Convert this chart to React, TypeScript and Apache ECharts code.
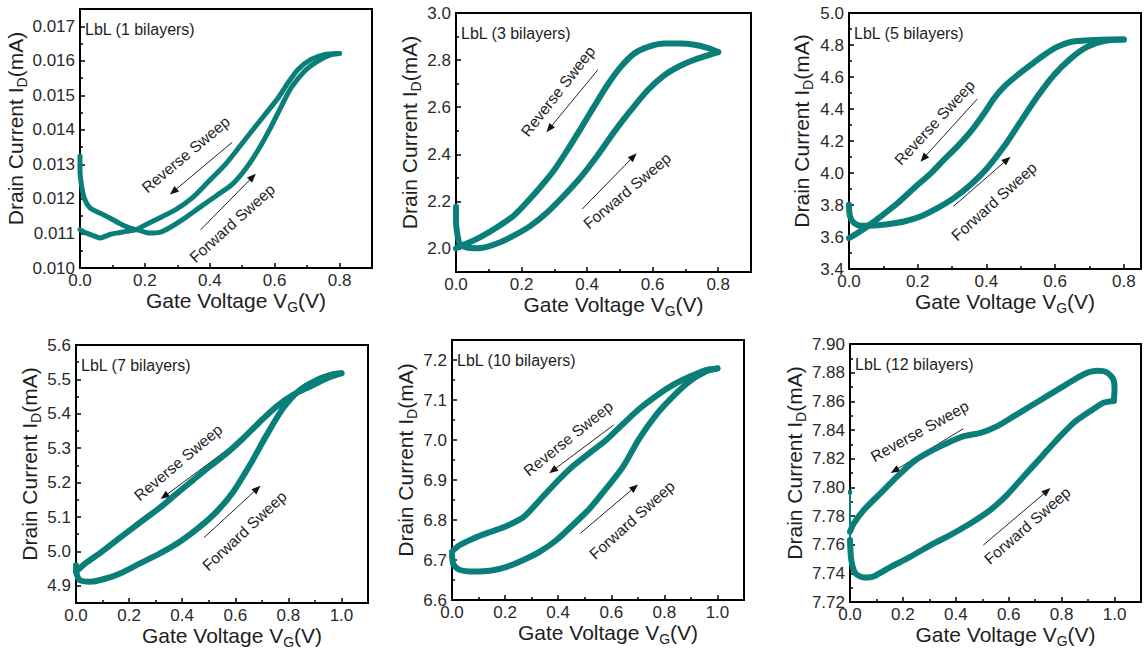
import { useEffect, useRef } from "react";
import * as echarts from "echarts";

const TEAL = "#0a7e78";
const INK = "#1e1e1e";
const FONT = "'Liberation Sans', Arial, Helvetica, sans-serif";

// ---- sweep data: [gate voltage V, drain current mA] ----
const fwd1: number[][] = [
  [0, 0.01324], [0, 0.01285], [0.005, 0.01237], [0.015, 0.01198], [0.031, 0.01174], [0.061, 0.01159],
  [0.092, 0.01145], [0.122, 0.01129], [0.153, 0.01116], [0.183, 0.01109], [0.214, 0.01101], [0.245, 0.01103],
  [0.275, 0.01116], [0.316, 0.0114], [0.367, 0.01174], [0.418, 0.01208], [0.469, 0.01242], [0.509, 0.01285],
  [0.55, 0.01343], [0.59, 0.01411], [0.621, 0.01469], [0.651, 0.01522], [0.692, 0.0157], [0.733, 0.01599],
  [0.774, 0.01618], [0.8, 0.01621],
];
const rev1: number[][] = [
  [0.8, 0.01621], [0.753, 0.01618], [0.712, 0.01604], [0.672, 0.01575], [0.641, 0.01536], [0.611, 0.01493],
  [0.57, 0.01444], [0.529, 0.01396], [0.489, 0.01348], [0.448, 0.013], [0.397, 0.01251], [0.346, 0.01203],
  [0.295, 0.01169], [0.245, 0.01145], [0.204, 0.01126], [0.173, 0.01111], [0.143, 0.01106], [0.112, 0.01101],
  [0.092, 0.01097], [0.061, 0.01087], [0.041, 0.01094], [0.02, 0.01101], [0, 0.01111],
];

const fwd3: number[][] = [
  [0, 2.177], [0, 2.118], [0.004, 2.061], [0.012, 2.018], [0.033, 2.004], [0.063, 2.001], [0.094, 2.007],
  [0.135, 2.026], [0.176, 2.054], [0.227, 2.096], [0.278, 2.153], [0.329, 2.224], [0.38, 2.302], [0.431, 2.394],
  [0.482, 2.494], [0.533, 2.586], [0.584, 2.671], [0.635, 2.735], [0.686, 2.777], [0.737, 2.806], [0.8, 2.834],
];
const rev3: number[][] = [
  [0.8, 2.834], [0.767, 2.852], [0.727, 2.865], [0.686, 2.87], [0.635, 2.87], [0.584, 2.855], [0.543, 2.827],
  [0.502, 2.77], [0.461, 2.692], [0.42, 2.6], [0.38, 2.508], [0.339, 2.416], [0.298, 2.33], [0.257, 2.26],
  [0.216, 2.196], [0.176, 2.139], [0.124, 2.089], [0.073, 2.047], [0.033, 2.021], [0.012, 2.011], [0, 2.0],
];

const fwd5: number[][] = [
  [0, 3.801], [0.003, 3.728], [0.015, 3.687], [0.034, 3.67], [0.073, 3.672], [0.112, 3.68], [0.16, 3.697],
  [0.208, 3.728], [0.257, 3.78], [0.305, 3.843], [0.354, 3.926], [0.402, 4.03], [0.451, 4.165], [0.499, 4.32],
  [0.548, 4.476], [0.596, 4.611], [0.645, 4.715], [0.693, 4.788], [0.742, 4.825], [0.8, 4.834],
];
const rev5: number[][] = [
  [0.8, 4.834], [0.761, 4.834], [0.703, 4.83], [0.645, 4.819], [0.606, 4.788], [0.567, 4.736], [0.528, 4.674],
  [0.49, 4.611], [0.451, 4.539], [0.422, 4.466], [0.393, 4.372], [0.354, 4.258], [0.315, 4.165], [0.276, 4.082],
  [0.238, 3.998], [0.189, 3.905], [0.141, 3.811], [0.092, 3.728], [0.053, 3.666], [0.024, 3.624], [0, 3.593],
];

const fwd7: number[][] = [
  [0, 4.96], [0.002, 4.936], [0.015, 4.916], [0.053, 4.912], [0.103, 4.919], [0.166, 4.936], [0.241, 4.965],
  [0.316, 4.994], [0.391, 5.028], [0.467, 5.072], [0.529, 5.115], [0.592, 5.173], [0.655, 5.251], [0.718, 5.338],
  [0.78, 5.416], [0.843, 5.469], [0.906, 5.498], [0.969, 5.515], [1.0, 5.518],
];
const rev7: number[][] = [
  [1.0, 5.518], [0.944, 5.503], [0.881, 5.479], [0.818, 5.455], [0.755, 5.421], [0.693, 5.377], [0.63, 5.329],
  [0.567, 5.285], [0.504, 5.247], [0.442, 5.208], [0.379, 5.168], [0.316, 5.127], [0.241, 5.084], [0.166, 5.04],
  [0.09, 4.995], [0.04, 4.968], [0, 4.941],
];

const fwd10: number[][] = [
  [0, 6.7125], [0.006, 6.688], [0.031, 6.675], [0.081, 6.671], [0.144, 6.673], [0.206, 6.683], [0.269, 6.7],
  [0.331, 6.721], [0.394, 6.75], [0.456, 6.788], [0.519, 6.829], [0.581, 6.879], [0.644, 6.933], [0.706, 7.004],
  [0.769, 7.063], [0.831, 7.108], [0.894, 7.146], [0.956, 7.171], [1.0, 7.179],
];
const rev10: number[][] = [
  [1.0, 7.179], [0.956, 7.175], [0.894, 7.158], [0.831, 7.137], [0.769, 7.11], [0.706, 7.078], [0.644, 7.04],
  [0.581, 7.0], [0.519, 6.968], [0.456, 6.935], [0.394, 6.895], [0.331, 6.85], [0.269, 6.807], [0.206, 6.785],
  [0.144, 6.77], [0.081, 6.754], [0.031, 6.738], [0, 6.721],
];

// start-up transient of the 12-bilayer sweep, drawn as a thin trace
const spike12: number[][] = [[0, 7.7965], [0, 7.7632]];
const fwd12: number[][] = [
  [0, 7.7632], [0.005, 7.7492], [0.021, 7.7399], [0.053, 7.7371], [0.091, 7.738],
  [0.154, 7.7445], [0.217, 7.7504], [0.305, 7.7597], [0.38, 7.7668], [0.456, 7.7749], [0.531, 7.7843],
  [0.594, 7.7948], [0.657, 7.8077], [0.72, 7.8205], [0.783, 7.8334], [0.846, 7.8451], [0.909, 7.8532],
  [0.96, 7.8591], [0.997, 7.8603],
];
const rev12: number[][] = [
  [0.997, 7.8603], [1.0, 7.8684], [0.995, 7.8754], [0.972, 7.8801], [0.935, 7.8813], [0.884, 7.8789],
  [0.809, 7.8708], [0.746, 7.8638], [0.683, 7.8567], [0.62, 7.8497], [0.557, 7.8427], [0.494, 7.838],
  [0.431, 7.8357], [0.368, 7.831], [0.305, 7.8252], [0.242, 7.8182], [0.179, 7.8077], [0.116, 7.796],
  [0.053, 7.7843], [0.015, 7.775], [0, 7.7691],
];

// ---- tick positions ----
const xMajor08 = [0, 0.2, 0.4, 0.6, 0.8];
const xMinor08 = [0.1, 0.3, 0.5, 0.7];
const xMajor10 = [0, 0.2, 0.4, 0.6, 0.8, 1.0];
const xMinor10 = [0.1, 0.3, 0.5, 0.7, 0.9];

const yMajor1 = [0.010, 0.011, 0.012, 0.013, 0.014, 0.015, 0.016, 0.017];
const yMinor1 = [0.0105, 0.0115, 0.0125, 0.0135, 0.0145, 0.0155, 0.0165];
const yMajor3 = [2.0, 2.2, 2.4, 2.6, 2.8, 3.0];
const yMinor3 = [1.9, 2.1, 2.3, 2.5, 2.7, 2.9];
const yMajor5 = [3.4, 3.6, 3.8, 4.0, 4.2, 4.4, 4.6, 4.8, 5.0];
const yMinor5 = [3.5, 3.7, 3.9, 4.1, 4.3, 4.5, 4.7, 4.9];
const yMajor7 = [4.9, 5.0, 5.1, 5.2, 5.3, 5.4, 5.5, 5.6];
const yMinor7 = [4.95, 5.05, 5.15, 5.25, 5.35, 5.45, 5.55];
const yMajor10 = [6.6, 6.7, 6.8, 6.9, 7.0, 7.1, 7.2];
const yMinor10 = [6.65, 6.75, 6.85, 6.95, 7.05, 7.15];
const yMajor12 = [7.72, 7.74, 7.76, 7.78, 7.8, 7.82, 7.84, 7.86, 7.88, 7.9];
const yMinor12 = [7.73, 7.75, 7.77, 7.79, 7.81, 7.83, 7.85, 7.87, 7.89];

// ---- sweep-direction notes: text anchor, rotation (deg), arrow from -> to ----
type Note = { text: string; at: number[]; angle: number; from: number[]; to: number[] };
const notes1: Note[] = [
  { text: "Reverse Sweep", at: [0.326, 0.01329], angle: 40, from: [0.469, 0.01364], to: [0.277, 0.01213] },
  { text: "Forward Sweep", at: [0.469, 0.0113], angle: 42, from: [0.372, 0.01111], to: [0.542, 0.01273] },
];
const notes3: Note[] = [
  { text: "Reverse Sweep", at: [0.311, 2.668], angle: 52, from: [0.433, 2.759], to: [0.276, 2.494] },
  { text: "Forward Sweep", at: [0.522, 2.245], angle: 40, from: [0.385, 2.167], to: [0.551, 2.404] },
];
const notes5: Note[] = [
  { text: "Reverse Sweep", at: [0.249, 4.316], angle: 47, from: [0.373, 4.462], to: [0.208, 4.071] },
  { text: "Forward Sweep", at: [0.422, 3.822], angle: 42, from: [0.304, 3.791], to: [0.47, 4.102] },
];
const notes7: Note[] = [
  { text: "Reverse Sweep", at: [0.385, 5.259], angle: 40, from: [0.563, 5.292], to: [0.319, 5.152] },
  { text: "Forward Sweep", at: [0.634, 5.06], angle: 43, from: [0.482, 5.04], to: [0.695, 5.191] },
];
const notes10: Note[] = [
  { text: "Reverse Sweep", at: [0.4375, 7.004], angle: 39, from: [0.609, 7.0375], to: [0.366, 6.917] },
  { text: "Forward Sweep", at: [0.678, 6.8], angle: 42, from: [0.484, 6.767], to: [0.701, 6.889] },
];
const notes12: Note[] = [
  { text: "Reverse Sweep", at: [0.263, 7.8392], angle: 29, from: [0.428, 7.8409], to: [0.154, 7.81] },
  { text: "Forward Sweep", at: [0.67, 7.7733], angle: 41, from: [0.504, 7.7597], to: [0.758, 7.7995] },
];

const panelLabels = [
  "LbL (1 bilayers)", "LbL (3 bilayers)", "LbL (5 bilayers)",
  "LbL (7 bilayers)", "LbL (10 bilayers)", "LbL (12 bilayers)",
];

const panels = [
  { fwd: fwd1, rev: rev1, spike: null as number[][] | null, notes: notes1, xMax: 0.9, yMin: 0.01, yMax: 0.0175, dec: 3,
    xMajor: xMajor08, xMinor: xMinor08, yMajor: yMajor1, yMinor: yMinor1,
    box: { left: 80, top: 9, width: 292, height: 259 }, yGap: 46, lw: 5 },
  { fwd: fwd3, rev: rev3, spike: null, notes: notes3, xMax: 0.9, yMin: 1.9, yMax: 3.0, dec: 1,
    xMajor: xMajor08, xMinor: xMinor08, yMajor: yMajor3, yMinor: yMinor3,
    box: { left: 456, top: 13, width: 295, height: 259 }, yGap: 30, lw: 6 },
  { fwd: fwd5, rev: rev5, spike: null, notes: notes5, xMax: 0.85, yMin: 3.4, yMax: 5.0, dec: 1,
    xMajor: xMajor08, xMinor: xMinor08, yMajor: yMajor5, yMinor: yMinor5,
    box: { left: 849, top: 13, width: 292, height: 256 }, yGap: 34, lw: 6 },
  { fwd: fwd7, rev: rev7, spike: null, notes: notes7, xMax: 1.1, yMin: 4.85, yMax: 5.6, dec: 1,
    xMajor: xMajor10, xMinor: xMinor10, yMajor: yMajor7, yMinor: yMinor7,
    box: { left: 76, top: 345, width: 292, height: 258 }, yGap: 32, lw: 6 },
  { fwd: fwd10, rev: rev10, spike: null, notes: notes10, xMax: 1.1, yMin: 6.6, yMax: 7.25, dec: 1,
    xMajor: xMajor10, xMinor: xMinor10, yMajor: yMajor10, yMinor: yMinor10,
    box: { left: 452, top: 340, width: 292, height: 260 }, yGap: 32, lw: 6 },
  { fwd: fwd12, rev: rev12, spike: spike12, notes: notes12, xMax: 1.1, yMin: 7.72, yMax: 7.9, dec: 2,
    xMajor: xMajor10, xMinor: xMinor10, yMajor: yMajor12, yMinor: yMinor12,
    box: { left: 850, top: 344, width: 291, height: 258 }, yGap: 40, lw: 6 },
];

const titleRich = {
  a: { fontSize: 21, fontFamily: FONT, color: INK, lineHeight: 27 },
  s: { fontSize: 14, fontFamily: FONT, color: INK, lineHeight: 14, verticalAlign: "bottom" },
};

function buildOption() {
  const grid: any[] = [];
  const xAxis: any[] = [];
  const yAxis: any[] = [];
  const series: any[] = [];
  const tickStyle = { color: "#000", width: 1.5 };
  const labelStyle = { color: "#2a2a2a", fontSize: 17, fontFamily: FONT };

  panels.forEach((p, i) => {
    grid.push({ ...p.box, show: true, borderColor: "#000", borderWidth: 2, containLabel: false });

    xAxis.push({
      type: "value", gridIndex: i, min: 0, max: p.xMax, position: "bottom",
      axisLine: { onZero: false, lineStyle: { color: "#000", width: 2 } },
      axisTick: { inside: true, length: 5, lineStyle: tickStyle, customValues: p.xMajor },
      axisLabel: { ...labelStyle, margin: 4, customValues: p.xMajor, formatter: (v: number) => v.toFixed(1) },
      splitLine: { show: false },
      name: "{a|Gate Voltage V}{s|G}{a|(V)}",
      nameLocation: "middle", nameGap: 18,
      nameTextStyle: { padding: [0, 0, 0, 20], rich: titleRich },
    });
    xAxis.push({
      type: "value", gridIndex: i, min: 0, max: p.xMax, position: "bottom",
      axisLine: { show: false, onZero: false },
      axisTick: { inside: true, length: 3, lineStyle: tickStyle, customValues: p.xMinor },
      axisLabel: { show: false }, splitLine: { show: false },
    });

    yAxis.push({
      type: "value", gridIndex: i, min: p.yMin, max: p.yMax, position: "left",
      axisLine: { onZero: false, lineStyle: { color: "#000", width: 2 } },
      axisTick: { inside: true, length: 5, lineStyle: tickStyle, customValues: p.yMajor },
      axisLabel: { ...labelStyle, margin: 5, customValues: p.yMajor, formatter: (v: number) => v.toFixed(p.dec) },
      splitLine: { show: false },
      name: "{a|Drain Current I}{s|D}{a|(mA)}",
      nameLocation: "middle", nameGap: p.yGap,
      nameTextStyle: { padding: [0, 0, 0, 20], rich: titleRich },
    });
    yAxis.push({
      type: "value", gridIndex: i, min: p.yMin, max: p.yMax, position: "left",
      axisLine: { show: false, onZero: false },
      axisTick: { inside: true, length: 3, lineStyle: tickStyle, customValues: p.yMinor },
      axisLabel: { show: false }, splitLine: { show: false },
    });

    const lineStyle = { color: TEAL, width: p.lw, cap: "round", join: "round" };
    series.push({
      type: "line", name: `forward-${i}`, xAxisIndex: 2 * i, yAxisIndex: 2 * i,
      data: p.fwd, showSymbol: false, symbol: "none", smooth: 0.25, silent: true, lineStyle,
    });
    series.push({
      type: "line", name: `reverse-${i}`, xAxisIndex: 2 * i, yAxisIndex: 2 * i,
      data: p.rev, showSymbol: false, symbol: "none", smooth: 0.25, silent: true, lineStyle,
    });
    if (p.spike) {
      series.push({
        type: "line", name: `transient-${i}`, xAxisIndex: 2 * i, yAxisIndex: 2 * i,
        data: p.spike, symbol: "rect", symbolSize: 4, showSymbol: true, silent: true,
        itemStyle: { color: TEAL }, lineStyle: { color: TEAL, width: 2 },
      });
    }
  });

  return { animation: false, backgroundColor: "#fff", grid, xAxis, yAxis, series };
}

export default function App() {
  const ref = useRef<HTMLDivElement>(null);

  useEffect(() => {
    if (!ref.current) return;
    const chart = echarts.init(ref.current, undefined, { renderer: "svg" });
    chart.setOption(buildOption() as any);

    const graphic: any[] = [];
    panels.forEach((p, i) => {
      const finder = { xAxisIndex: 2 * i, yAxisIndex: 2 * i };
      graphic.push({
        type: "text", x: p.box.left + 5, y: p.box.top + 20, silent: true,
        style: { text: panelLabels[i], fontSize: 16, fontFamily: FONT, fill: INK, verticalAlign: "middle" },
      });
      p.notes.forEach((n) => {
        const pt = chart.convertToPixel(finder, n.at) as number[];
        graphic.push({
          type: "text", x: pt[0], y: pt[1], rotation: (n.angle * Math.PI) / 180, silent: true,
          style: { text: n.text, fontSize: 15.5, fontFamily: FONT, fill: INK, align: "center", verticalAlign: "middle" },
        });
        // arrow: thin shaft plus a filled head at the "to" end
        const a = chart.convertToPixel(finder, n.from) as number[];
        const b = chart.convertToPixel(finder, n.to) as number[];
        const dx = b[0] - a[0];
        const dy = b[1] - a[1];
        const len = Math.hypot(dx, dy);
        const ux = dx / len;
        const uy = dy / len;
        const headL = 9;
        const headW = 3.6;
        const bx = b[0] - ux * headL;
        const by = b[1] - uy * headL;
        graphic.push({
          type: "line", silent: true,
          shape: { x1: a[0], y1: a[1], x2: bx + ux * 1, y2: by + uy * 1 },
          style: { stroke: "#222", lineWidth: 1 },
        });
        graphic.push({
          type: "polygon", silent: true,
          shape: { points: [[b[0], b[1]], [bx - uy * headW, by + ux * headW], [bx + uy * headW, by - ux * headW]] },
          style: { fill: "#111" },
        });
      });
    });
    chart.setOption({ graphic });

    return () => chart.dispose();
  }, []);

  return (
    <div
      ref={ref}
      style={{ position: "absolute", left: 0, top: 0, width: 1144, height: 655, background: "#fff" }}
    />
  );
}
